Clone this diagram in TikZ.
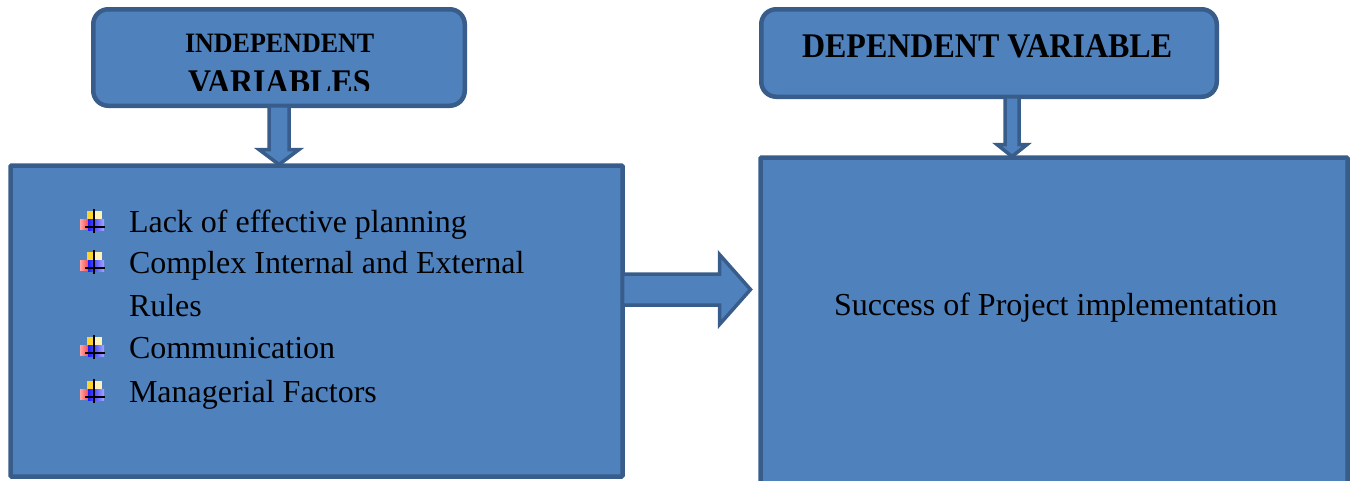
\documentclass[tikz,border=0pt]{standalone}
\usepackage{fontspec}
\setmainfont{Liberation Serif}
\usetikzlibrary{calc}
\definecolor{boxfill}{HTML}{4F81BD}
\definecolor{boxline}{HTML}{385D8A}
\definecolor{byellow}{HTML}{FFD42A}
\definecolor{bpale}{HTML}{FFF3B8}
\begin{document}
\begin{tikzpicture}[x=1pt,y=-1pt,
  box/.style={draw=boxline,fill=boxfill,line width=4.5pt,inner sep=0pt,outer sep=0pt},
  blockarrow/.style={draw=boxline,fill=boxfill,line width=3.5pt,line join=miter},
  txt/.style={inner sep=0pt,outer sep=0pt,anchor=base west,font=\fontsize{32}{38}\selectfont},
  ttl/.style={inner sep=0pt,outer sep=0pt,anchor=base west,font=\fontsize{32}{38}\selectfont\bfseries},
  qb/.pic={
    \fill[byellow] (7,-21) rectangle (22,-10);
    \fill[bpale] (14,-21) rectangle (22,-10);
    \shade[left color=red!35, right color=red!80] (0,-13) rectangle (10,-3);
    \shade[left color=blue!90, right color=blue!35] (8,-13) rectangle (24,-2);
    \draw[black,line width=1.6pt] (14,-23) -- (14,1);
    \draw[black,line width=1.6pt] (5,-5) -- (25,-5);
  }]
\useasboundingbox (0,0) rectangle (1350,480);
\clip (0,0) rectangle (1350,480);

% boxes
\node[box,rounded corners=15pt,minimum width=371.5pt,minimum height=96.5pt] (it) at (279,57.5) {};
\node[box,rounded corners=15pt,minimum width=455.5pt,minimum height=87.5pt] (dt) at (989,53) {};
\node[box,rounded corners=1pt,minimum width=612pt,minimum height=311pt] (ib) at (316.5,321) {};
\node[box,rounded corners=1pt,minimum width=587pt,minimum height=340pt] (db) at (1054,327.5) {};

% left down arrow
\coordinate (a1s) at (it.south);
\coordinate (a1t) at ($(it.south |- ib.north)+(0,-1)$);
\draw[blockarrow] ($(a1s)+(-10,0)$) -- ($(a1t)+(-10,-15)$) -- ($(a1t)+(-20,-15)$) -- (a1t)
  -- ($(a1t)+(20,-15)$) -- ($(a1t)+(10,-15)$) -- ($(a1s)+(10,0)$) -- cycle;

% right down arrow
\coordinate (a2s) at ($(dt.south)+(23,0)$);
\coordinate (a2t) at ($(a2s |- db.north)+(0,-1)$);
\draw[blockarrow] ($(a2s)+(-7,0)$) -- ($(a2t)+(-7,-12)$) -- ($(a2t)+(-15,-12)$) -- (a2t)
  -- ($(a2t)+(15,-12)$) -- ($(a2t)+(7,-12)$) -- ($(a2s)+(7,0)$) -- cycle;

% horizontal arrow
\coordinate (a3s) at ($(ib.east)+(0,-31.5)$);
\coordinate (a3t) at ($(db.west |- a3s)+(-10,0)$);
\draw[blockarrow] ($(a3s)+(0,-15.5)$) -- ($(a3t)+(-31,-15.5)$) -- ($(a3t)+(-31,-35)$) -- (a3t)
  -- ($(a3t)+(-31,35)$) -- ($(a3t)+(-31,15.5)$) -- ($(a3s)+(0,15.5)$) -- cycle;

% titles
\node[ttl,font=\fontsize{26}{30}\selectfont\bfseries] (t1) at (185,52) {\scalebox{1}[1.08]{INDEPENDENT}};
\begin{scope}
  \clip (0,0) rectangle (1350,90);
  \node[ttl] (t2) at (188,93) {\scalebox{1}[1.08]{VARIABLES}};
\end{scope}
\node[ttl] (t3) at (802,57) {\scalebox{1}[1.08]{DEPENDENT VARIABLE}};

% list
\pic at (80,232) {qb};
\pic at (80,273) {qb};
\pic at (80,358) {qb};
\pic at (80,402) {qb};
\node[txt] (l1) at (129,232) {Lack of effective planning};
\node[txt] (l2) at (129,273) {Complex Internal and External};
\node[txt] (l3) at (129,316) {Rules};
\node[txt] (l4) at (129,358) {Communication};
\node[txt] (l5) at (129,402) {Managerial Factors};

\node[txt] (s1) at (834,315) {Success of Project implementation};
\end{tikzpicture}
\end{document}
